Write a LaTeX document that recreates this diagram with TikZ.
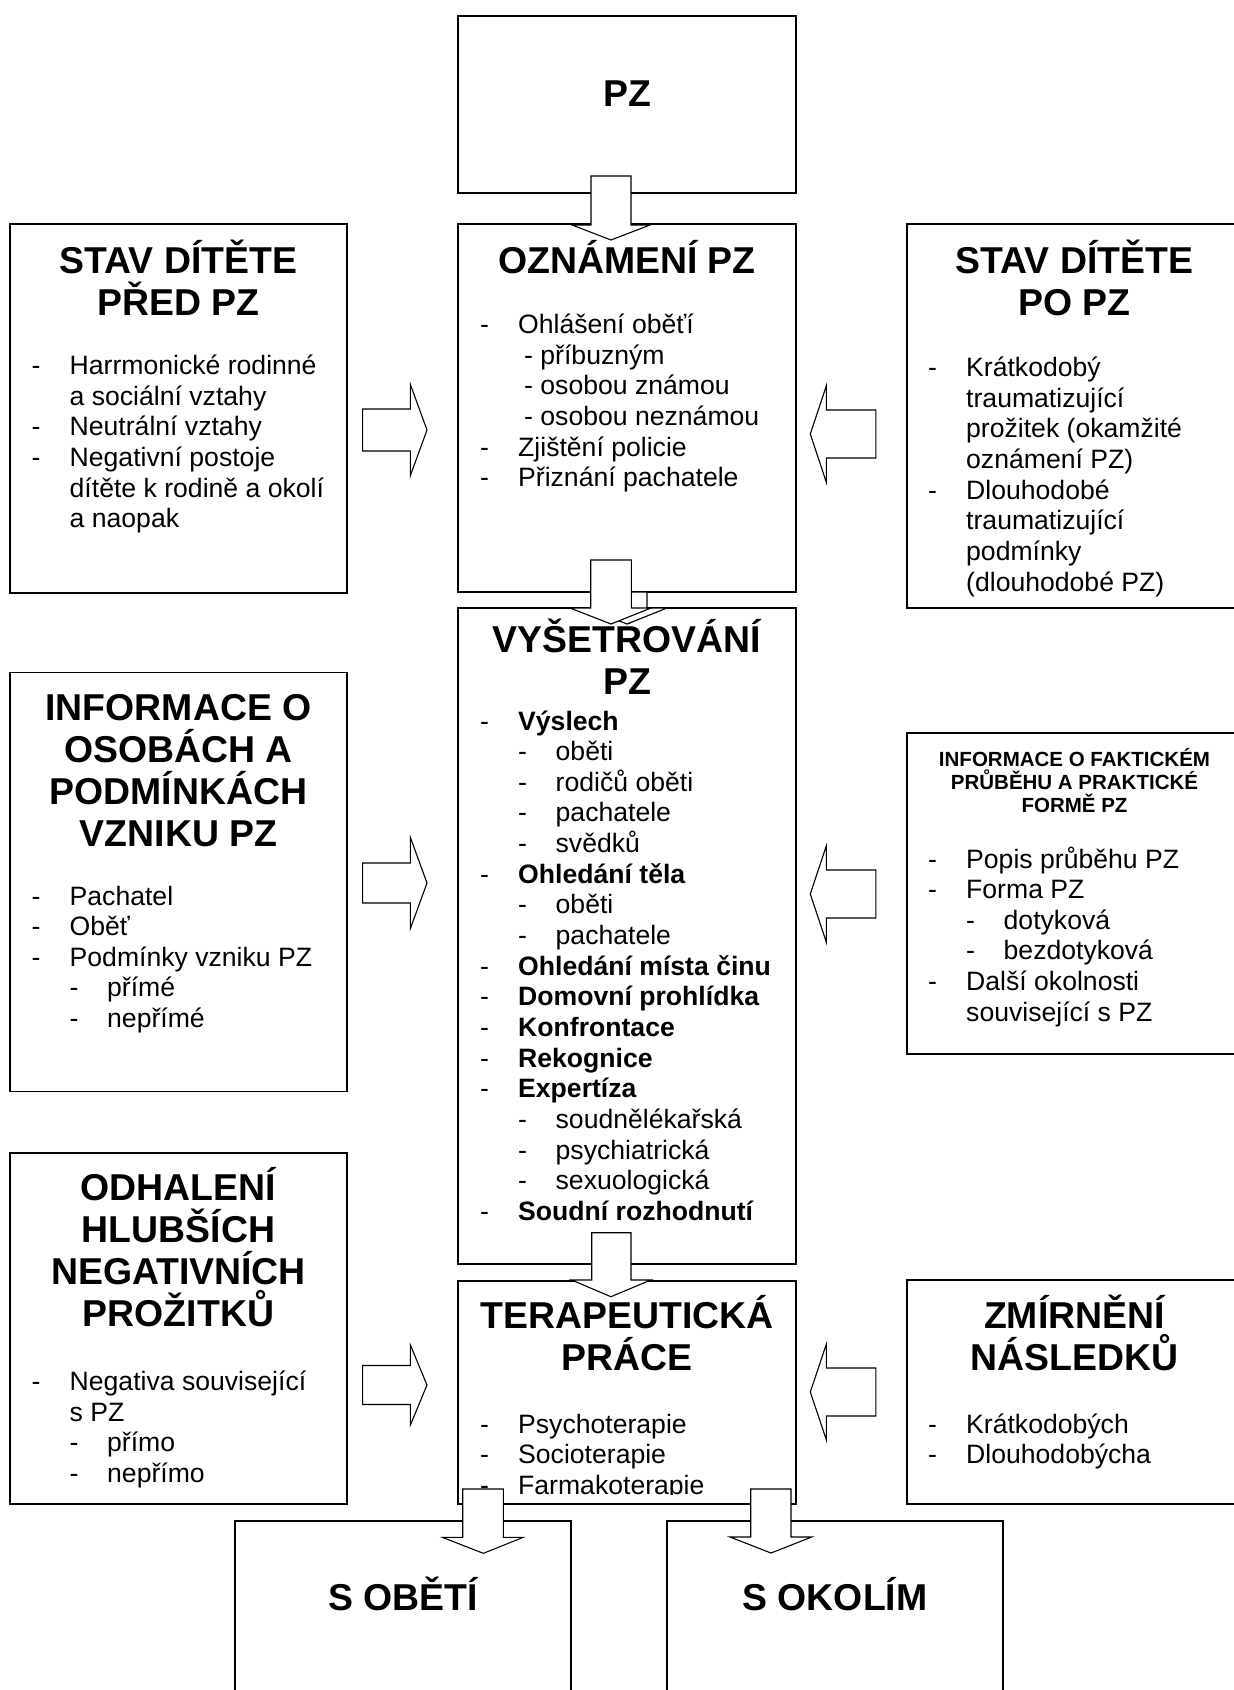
\documentclass[tikz,border=0pt]{standalone}
\usepackage{fontspec}
\setmainfont{Liberation Sans}
\newcommand\lia[1]{\makebox[38pt][l]{-}#1\par}
\newcommand\lic[1]{\hspace*{38pt}#1\par}
\newcommand\lib[1]{\hspace*{38pt}\makebox[37.5pt][l]{-}#1\par}
\newcommand\liz[1]{\hspace*{44pt}#1\par}
\newcommand\mylist[1]{\parbox[t]{420pt}{\raggedright #1}}
\newcommand\mytitle[1]{\parbox[t]{420pt}{\centering #1\par}}
\newcommand\downblk[8]{\draw[blk] (#1,#3) -- (#2,#3) -- (#2,#4) -- (#6,#4) -- (#7,#8) -- (#5,#4) -- (#1,#4) -- cycle;}
\newcommand\sideblk[6]{\draw[blk] ({#1},{#4-#5}) -- ({#2},{#4-#5}) -- ({#2},{#4-#6}) -- ({#3},{#4}) -- ({#2},{#4+#6}) -- ({#2},{#4+#5}) -- ({#1},{#4+#5}) -- cycle;}
\begin{document}
\begin{tikzpicture}[x=1pt,y=-1pt,
 box/.style={draw, line width=1.7pt, fill=white, inner sep=0pt, outer sep=0pt, anchor=north west},
 blk/.style={draw, line width=1.1pt, fill=white, line join=miter},
 ttl/.style={inner sep=0pt, font=\fontsize{37.4pt}{42pt}\selectfont\bfseries, anchor=base},
 sttl/.style={inner sep=0pt, font=\fontsize{20.5pt}{23.2pt}\selectfont\bfseries, anchor=base},
 lst/.style={inner sep=0pt, font=\fontsize{26.6pt}{30.65pt}\selectfont, anchor=base west}]
\useasboundingbox (0,0) rectangle (1234,1690);
\clip (0,0) rectangle (1234,1690);
\fill[white] (0,0) rectangle (1234,1690);
% boxes
\node[box, minimum width=338pt, minimum height=177pt] (pz) at (458,16) {};
\node[box, minimum width=337pt, minimum height=369pt] (pred) at (10,224) {};
\node[box, minimum width=338pt, minimum height=368pt] (ozn) at (458,224) {};
\node[box, minimum width=345pt, minimum height=384pt] (po) at (906.7,224) {};
\node[box, minimum width=338pt, minimum height=656pt] (vys) at (458,608) {};
\node[box, minimum width=337pt, minimum height=419pt] (osob) at (10,672.5) {};
\node[box, minimum width=345pt, minimum height=321pt] (fakt) at (906.7,733) {};
\node[box, minimum width=337pt, minimum height=351pt] (odh) at (10,1153) {};
\node[box, minimum width=338pt, minimum height=223pt] (ter) at (458,1281) {};
\node[box, minimum width=345pt, minimum height=224pt] (zmir) at (906.7,1280) {};
\node[box, minimum width=336pt, minimum height=200pt] (sob) at (235,1521) {};
\node[box, minimum width=336pt, minimum height=200pt] (sok) at (667,1521) {};
% titles
\node[ttl] (pz-t) at (627,106) {\mytitle{PZ}};
\node[ttl] (pred-t) at (178.5,273) {\mytitle{STAV DÍTĚTE\\PŘED PZ}};
\node[ttl] (ozn-t) at (627,273) {\mytitle{OZNÁMENÍ PZ}};
\node[ttl] (po-t) at (1074.5,273) {\mytitle{STAV DÍTĚTE\\PO PZ}};
\node[ttl] (vys-t) at (627,652) {\mytitle{VYŠETŘOVÁNÍ\\PZ}};
\node[ttl] (osob-t) at (178.5,720) {\mytitle{INFORMACE O\\OSOBÁCH A\\PODMÍNKÁCH\\VZNIKU PZ}};
\node[sttl] (fakt-t) at (1074.5,766) {\mytitle{INFORMACE O FAKTICKÉM\\PRŮBĚHU A PRAKTICKÉ\\FORMĚ PZ}};
\node[ttl] (odh-t) at (178.5,1200.6) {\mytitle{ODHALENÍ\\HLUBŠÍCH\\NEGATIVNÍCH\\PROŽITKŮ}};
\node[ttl] (ter-t) at (627,1328) {\mytitle{TERAPEUTICKÁ\\PRÁCE}};
\node[ttl] (zmir-t) at (1074.5,1328) {\mytitle{ZMÍRNĚNÍ\\NÁSLEDKŮ}};
\node[ttl] (sob-t) at (403,1610.7) {\mytitle{S OBĚTÍ}};
\node[ttl] (sok-t) at (835,1610.7) {\mytitle{S OKOLÍM}};
% lists
\node[lst] (pred-l) at (31.5,374.5) {\mylist{\lia{Harrmonické rodinné}\lic{a sociální vztahy}\lia{Neutrální vztahy}\lia{Negativní postoje}\lic{dítěte k rodině a okolí}\lic{a naopak}}};
\node[lst] (ozn-l) at (480,333.4) {\mylist{\lia{Ohlášení oběťí}\liz{- příbuzným}\liz{- osobou známou}\liz{- osobou neznámou}\lia{Zjištění policie}\lia{Přiznání pachatele}}};
\node[lst] (po-l) at (928,376.5) {\mylist{\lia{Krátkodobý}\lic{traumatizující}\lic{prožitek (okamžité}\lic{oznámení PZ)}\lia{Dlouhodobé}\lic{traumatizující}\lic{podmínky}\lic{(dlouhodobé PZ)}}};
\node[lst] (vys-l) at (480,730) {\mylist{\lia{\textbf{Výslech}}\lib{oběti}\lib{rodičů oběti}\lib{pachatele}\lib{svědků}\lia{\textbf{Ohledání těla}}\lib{oběti}\lib{pachatele}\lia{\textbf{Ohledání místa činu}}\lia{\textbf{Domovní prohlídka}}\lia{\textbf{Konfrontace}}\lia{\textbf{Rekognice}}\lia{\textbf{Expertíza}}\lib{soudnělékařská}\lib{psychiatrická}\lib{sexuologická}\lia{\textbf{Soudní rozhodnutí}}}};
\node[lst] (osob-l) at (31.5,905) {\mylist{\lia{Pachatel}\lia{Oběť}\lia{Podmínky vzniku PZ}\lib{přímé}\lib{nepřímé}}};
\node[lst] (fakt-l) at (928,868) {\mylist{\lia{Popis průběhu PZ}\lia{Forma PZ}\lib{dotyková}\lib{bezdotyková}\lia{Další okolnosti}\lic{související s PZ}}};
\node[lst] (odh-l) at (31.5,1390.6) {\mylist{\lia{Negativa související}\lic{s PZ}\lib{přímo}\lib{nepřímo}}};
\begin{scope}
\clip (458,1281) rectangle (796,1494.5);
\node[lst] (ter-l) at (480,1433) {\mylist{\lia{Psychoterapie}\lia{Socioterapie}\lia{Farmakoterapie}}};
\end{scope}
\node[lst] (zmir-l) at (928,1433) {\mylist{\lia{Krátkodobých}\lia{Dlouhodobýcha}}};
% block arrows
\downblk{591}{631}{176}{225}{572}{650}{611}{240}
\downblk{607}{647}{592}{608}{586}{667}{627}{624}
\downblk{590.7}{631.3}{560}{608}{570}{651}{611}{624}
\downblk{591.7}{631}{1232.7}{1280}{571.7}{650.7}{611}{1296.7}
\downblk{462.7}{503.3}{1489}{1537.3}{442.3}{523.3}{483.3}{1553.3}
\downblk{750.7}{791}{1489}{1537}{730}{811.7}{771}{1553}
\sideblk{362.6}{410.4}{427}{430}{21}{45.5}
\sideblk{362.6}{410.4}{427}{883}{20}{45.5}
\sideblk{362.6}{410.4}{427}{1385}{19.5}{40}
\sideblk{875.8}{826.4}{810.3}{434}{24}{48.5}
\sideblk{875.8}{826.4}{810.3}{894}{24}{48.3}
\sideblk{875.8}{826.4}{810.3}{1392}{24}{48}
\end{tikzpicture}
\end{document}
